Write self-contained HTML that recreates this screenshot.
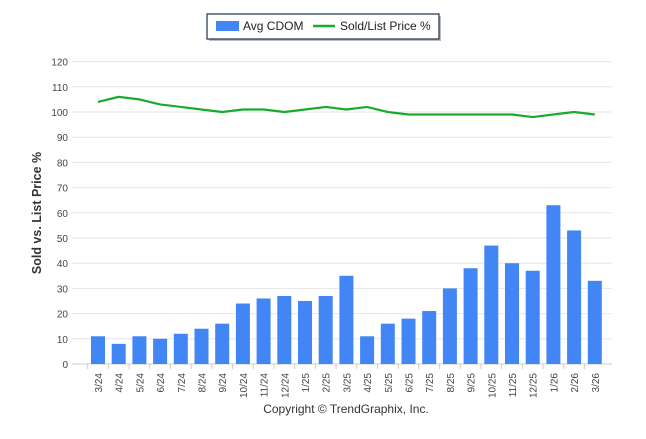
<!DOCTYPE html>
<html><head><meta charset="utf-8"><style>
body{margin:0;background:#fff;font-family:"Liberation Sans",sans-serif}
</style></head><body>
<svg id="chart" width="646" height="434" xmlns="http://www.w3.org/2000/svg" font-family="Liberation Sans, sans-serif">
<g>
<rect x="209" y="16" width="232" height="25" fill="#bbb"/>
<rect x="207" y="14" width="232" height="25" fill="#fff" stroke="#1f3050" stroke-width="1.2"/>
<rect x="216" y="21" width="23" height="10" fill="#4285f4"/>
<text x="243" y="30" font-size="12" fill="#222">Avg CDOM</text>
<line x1="313" y1="26" x2="335" y2="26" stroke="#1aab2e" stroke-width="2.5"/>
<text x="340" y="30" font-size="12" fill="#222">Sold/List Price %</text>
</g>
<text transform="translate(41,213) rotate(-90)" text-anchor="middle" font-size="12.5" font-weight="bold" fill="#333">Sold vs. List Price %</text>
<g id="grid"></g><g id="bars"></g><g id="line"></g><g id="xlabels"></g>
<text x="346" y="413" text-anchor="middle" font-size="12" fill="#333">Copyright © TrendGraphix, Inc.</text>
</svg>
<script>
const categories=["3/24","4/24","5/24","6/24","7/24","8/24","9/24","10/24","11/24","12/24","1/25","2/25","3/25","4/25","5/25","6/25","7/25","8/25","9/25","10/25","11/25","12/25","1/26","2/26","3/26"];
const cdomValues=[11,8,11,10,12,14,16,24,26,27,25,27,35,11,16,18,21,30,38,47,40,37,63,53,33];
const priceValues=[104,106,105,103,102,101,100,101,101,100,101,102,101,102,100,99,99,99,99,99,99,98,99,100,99];
const yTicks=[0,10,20,30,40,50,60,70,80,90,100,110,120];
const NS="http://www.w3.org/2000/svg";
const y=v=>364-v*2.52;
const x=i=>98+i*20.7;
function mk(t,a,p){const e=document.createElementNS(NS,t);for(const k in a)e.setAttribute(k,a[k]);p.appendChild(e);return e;}
const g=document.getElementById('grid');
yTicks.forEach(t=>{
 const l=mk('line',{x1:72,x2:612,y1:y(t),y2:y(t),stroke:t===0?'#ccc':'#e6e6e6','stroke-width':1},g);
 
 
 const tx=mk('text',{x:68,y:y(t)+4,'text-anchor':'end','font-size':10,fill:'#444'},g);
 tx.textContent=t;
 
 
});
const b=document.getElementById('bars');
cdomValues.forEach((v,i)=>{
 const r=mk('rect',{x:x(i)-7,y:y(v),width:14,height:y(0)-y(v),fill:'#4285f4'},b);
 
 
});
const xl=document.getElementById('xlabels');
categories.forEach((c,i)=>{
 const tk=mk('line',{x1:x(i)-10.35,x2:x(i)-10.35,y1:364,y2:369,stroke:'#ccc'},xl);
 
 
 const t=mk('text',{transform:`translate(${x(i)+4},373) rotate(-90)`,'text-anchor':'end','font-size':10,fill:'#444'},xl);
 t.textContent=c;
 
 
});
const ln=document.getElementById('line');
const p=mk('polyline',{points:priceValues.map((v,i)=>x(i)+','+y(v)).join(' '),fill:'none',stroke:'#1aab2e','stroke-width':2.2,'stroke-linejoin':'round'},ln);


</script>
</body></html>
